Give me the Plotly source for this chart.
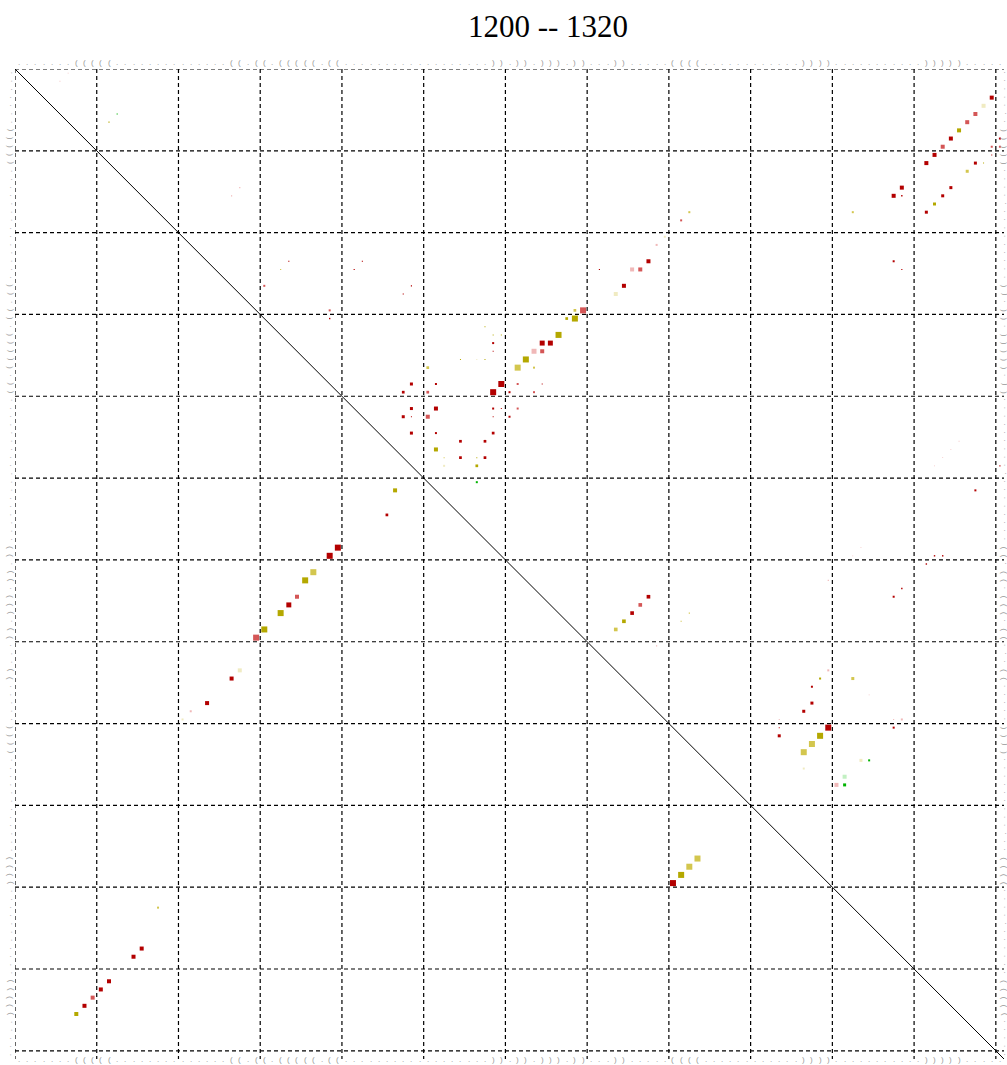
import plotly.graph_objects as go
import numpy as np

# Sequence window shown on both axes
FIRST, LAST = 1200, 1320

# Consensus secondary structure for positions 1200..1320 (dot-bracket)
structure = (
    "......." "(((((" ".............." "((" "." "((" "." "(((((" "." "(("
    ".................." "))" "." "))" "." ")))" "." "))" "..." "))" "....."
    "((((" "............" "))))" "..........." ")))))" "....."
)

# Upper triangle: base-pair probabilities (i < j), probability and pair-type class
pair_i = [1203, 1204, 1205, 1206, 1207, 1208, 1209, 1210, 1211, 1214, 1215, 1215,
          1211, 1212, 1214, 1215, 1216, 1217, 1211, 1209, 1208, 1209, 1210,
          1206, 1205, 1200, 1201,
          1227, 1229, 1229, 1230, 1230, 1232, 1233, 1233, 1234, 1234, 1236, 1235,
          1236, 1238, 1239, 1231, 1232, 1232, 1235, 1233, 1234, 1238, 1238, 1239,
          1239, 1241, 1241, 1241, 1242, 1242,
          1236, 1238, 1238, 1239, 1239, 1241, 1241, 1242, 1242, 1242, 1244, 1244,
          1244, 1245, 1245, 1246, 1247, 1247, 1247, 1247, 1248, 1248, 1250, 1235, 1235,
          1214, 1215, 1223, 1224, 1226, 1224, 1223, 1229, 1230, 1226, 1227, 1224,
          1224, 1224, 1223, 1226, 1220, 1221, 1218, 1217,
          1273, 1274, 1274, 1275, 1277, 1278, 1280, 1281, 1282, 1283, 1281, 1279,
          1280, 1280, 1279, 1279, 1276, 1284, 1284, 1285, 1286, 1287, 1287,
          1264, 1265, 1266, 1267, 1268, 1267, 1266, 1270,
          1248, 1251, 1259, 1259, 1260, 1264, 1263, 1217, 1223, 1224,
          1245, 1246, 1247, 1248, 1258, 1259, 1262]
pair_j = [1319, 1318, 1317, 1316, 1315, 1314, 1313, 1312, 1311, 1308, 1307, 1308,
          1317, 1316, 1314, 1313, 1312, 1311, 1318, 1319, 1320, 1320, 1319,
          1211, 1212, 1206, 1205,
          1273, 1269, 1268, 1268, 1267, 1266, 1265, 1264, 1264, 1263, 1263, 1262,
          1261, 1259, 1258, 1257, 1258, 1259, 1257, 1258, 1258, 1261, 1264, 1260,
          1263, 1258, 1259, 1261, 1258, 1260,
          1250, 1248, 1251, 1247, 1250, 1248, 1251, 1250, 1247, 1248, 1248, 1251,
          1258, 1254, 1257, 1251, 1254, 1257, 1252, 1256, 1252, 1256, 1256, 1254, 1256,
          1227, 1226, 1233, 1232, 1230, 1241, 1242, 1238, 1238, 1248, 1247, 1271,
          1275, 1276, 1277, 1274, 1279, 1278, 1281, 1282,
          1299, 1298, 1302, 1297, 1297, 1296, 1299, 1298, 1297, 1296, 1293, 1293,
          1293, 1307, 1308, 1307, 1304, 1303, 1304, 1296, 1301, 1300, 1301,
          1277, 1276, 1275, 1274, 1273, 1281, 1282, 1278,
          1320, 1317, 1313, 1312, 1311, 1307, 1308, 1302, 1307, 1308,
          1315, 1314, 1313, 1312, 1303, 1302, 1299]
pair_p = [0.24, 0.24, 0.24, 0.24, 0.24, 0.24, 0.24, 0.24, 0.24, 0.24, 0.24, 0.03,
          0.135, 0.135, 0.135, 0.135, 0.135, 0.135, 0.015, 0.06, 0.06, 0.06, 0.015,
          0.02, 0.02, 0.01, 0.01,
          0.24, 0.54, 0.11, 0.54, 0.11, 0.54, 0.37, 0.37, 0.24, 0.37, 0.06, 0.54,
          0.54, 0.54, 0.54, 0.015, 0.015, 0.015, 0.015, 0.06, 0.015, 0.06, 0.015, 0.06,
          0.06, 0.06, 0.015, 0.06, 0.015, 0.06,
          0.11, 0.135, 0.06, 0.11, 0.11, 0.135, 0.24, 0.24, 0.135, 0.015, 0.135, 0.06,
          0.11, 0.11, 0.11, 0.24, 0.11, 0.11, 0.015, 0.015, 0.06, 0.11, 0.06, 0.015, 0.015,
          0.02, 0.02, 0.02, 0.02, 0.06, 0.02, 0.02, 0.06, 0.03, 0.02, 0.02, 0.02,
          0.24, 0.24, 0.24, 0.24, 0.06, 0.06, 0.06, 0.06,
          0.06, 0.06, 0.135, 0.06, 0.135, 0.135, 0.54, 0.54, 0.54, 0.54, 0.135, 0.015,
          0.015, 0.06, 0.06, 0.015, 0.01, 0.135, 0.06, 0.06, 0.24, 0.24, 0.135,
          0.2, 0.2, 0.2, 0.2, 0.2, 0.02, 0.02, 0.02,
          0.02, 0.06, 0.03, 0.03, 0.03, 0.06, 0.03, 0.06, 0.06, 0.02,
          0.01, 0.01, 0.01, 0.01, 0.01, 0.01, 0.02]
pair_c = ["R", "w", "r", "r", "O", "R", "r", "R", "R", "R", "R", "R",
          "R", "y", "R", "R", "O", "R", "O", "r", "R", "r", "R",
          "O", "G", "p", "p",
          "w", "r", "y", "O", "O", "O", "R", "R", "r", "p", "y", "O",
          "y", "R", "R", "O", "O", "O", "O", "R", "R", "r", "R", "R",
          "r", "R", "R", "r", "R", "R",
          "y", "R", "R", "R", "r", "R", "R", "r", "R", "R", "R", "R",
          "R", "R", "R", "O", "R", "R", "y", "O", "w", "O", "G", "O", "w",
          "p", "p", "R", "y", "r", "R", "R", "r", "R", "R", "R", "R",
          "p", "r", "R", "R", "w", "p", "r", "y",
          "p", "O", "y", "R", "R", "R", "R", "O", "y", "y", "R", "p",
          "R", "R", "p", "p", "p", "w", "G", "w", "g", "p", "G",
          "R", "r", "R", "O", "y", "y", "y", "p",
          "R", "R", "R", "R", "R", "R", "R", "y", "R", "R",
          "p", "p", "p", "p", "p", "p", "p"]

# Lower triangle: pairs of the predicted structure (drawn mirrored)
mfe_i = [1207, 1208, 1209, 1210, 1211, 1214, 1215, 1217, 1220, 1221, 1223, 1226,
         1227, 1229, 1230, 1232, 1233, 1234, 1235, 1236, 1238, 1239, 1245, 1246,
         1280, 1281, 1282, 1283]
mfe_j = [1315, 1314, 1313, 1312, 1311, 1308, 1307, 1302, 1279, 1278, 1277, 1274,
         1273, 1269, 1268, 1266, 1265, 1264, 1262, 1261, 1259, 1258, 1254, 1251,
         1299, 1298, 1297, 1296]

# Pair-type colours: number of distinct pair types, shaded by inconsistent sequences
palette = {
    "R": "#b30000", "r": "#d45656", "p": "#f0b8b8",
    "O": "#b4a800", "y": "#d3c64e", "w": "#f0ebc2",
    "G": "#00b300", "g": "#c2f0c2",
}

grid_pos = np.arange(FIRST - 0.5, LAST + 0.5, 10)
lo, hi = FIRST - 0.5, LAST + 0.5

shapes = []
# dashed grid every 10 nucleotides
for g in grid_pos:
    shapes.append(dict(type="line", xref="x", yref="y", x0=g, x1=g, y0=lo, y1=hi,
                       line=dict(color="black", width=1.2, dash="4px,3px"), layer="below"))
    shapes.append(dict(type="line", xref="x", yref="y", x0=lo, x1=hi, y0=g, y1=g,
                       line=dict(color="black", width=1.2, dash="4px,3px"), layer="below"))
# main diagonal
shapes.append(dict(type="line", xref="x", yref="y", x0=lo, y0=lo, x1=hi, y1=hi,
                   line=dict(color="black", width=1)))

lookup = {}
for i, j, p, c in zip(pair_i, pair_j, pair_p, pair_c):
    lookup[(i, j)] = (p, c)
    s = np.sqrt(p) / 2
    shapes.append(dict(type="rect", xref="x", yref="y", x0=j - s, x1=j + s,
                       y0=i - s, y1=i + s, fillcolor=palette[c], line=dict(width=0)))

for i, j in zip(mfe_i, mfe_j):
    p, c = lookup[(i, j)]
    s = np.sqrt(p) / 2
    shapes.append(dict(type="rect", xref="x", yref="y", x0=i - s, x1=i + s,
                       y0=j - s, y1=j + s, fillcolor=palette[c], line=dict(width=0)))

# structure string written along the four edges
annotations = []
seq_pos = np.arange(FIRST, LAST + 1)
font = dict(family="Liberation Sans", size=8, color="#999999")
plot_h, plot_w = 1065 - 69 - 6, 1007 - 15 - 3
for pos, ch in zip(seq_pos, structure):
    base = dict(showarrow=False, text=ch, font=font, xanchor="center", yanchor="middle")
    annotations.append(dict(x=pos, xref="x", y=1 + 6 / plot_h, yref="paper", **base))
    annotations.append(dict(x=pos, xref="x", y=-0.5 / plot_h, yref="paper", **base))
    annotations.append(dict(x=-6 / plot_w, xref="paper", y=pos, yref="y", textangle=-90, **base))
    annotations.append(dict(x=1 - 1.5 / plot_w, xref="paper", y=pos, yref="y", textangle=-90, **base))

fig = go.Figure(go.Scatter(x=[], y=[], mode="markers", showlegend=False))
fig.update_layout(
    width=1007, height=1065,
    margin=dict(l=15, r=3, t=69, b=6),
    paper_bgcolor="white", plot_bgcolor="white",
    title=dict(text="1200 -- 1320", xref="container", yref="container",
               x=548 / 1007, y=1 - 26 / 1065, xanchor="center", yanchor="middle",
               font=dict(family="Liberation Serif", size=31, color="black")),
    xaxis=dict(range=[lo, hi], showgrid=False, zeroline=False, showticklabels=False,
               ticks="", showline=False, fixedrange=True),
    yaxis=dict(range=[hi, lo], showgrid=False, zeroline=False, showticklabels=False,
               ticks="", showline=False, fixedrange=True),
    shapes=shapes,
    annotations=annotations,
    showlegend=False,
)

fig.write_html("out.html")
